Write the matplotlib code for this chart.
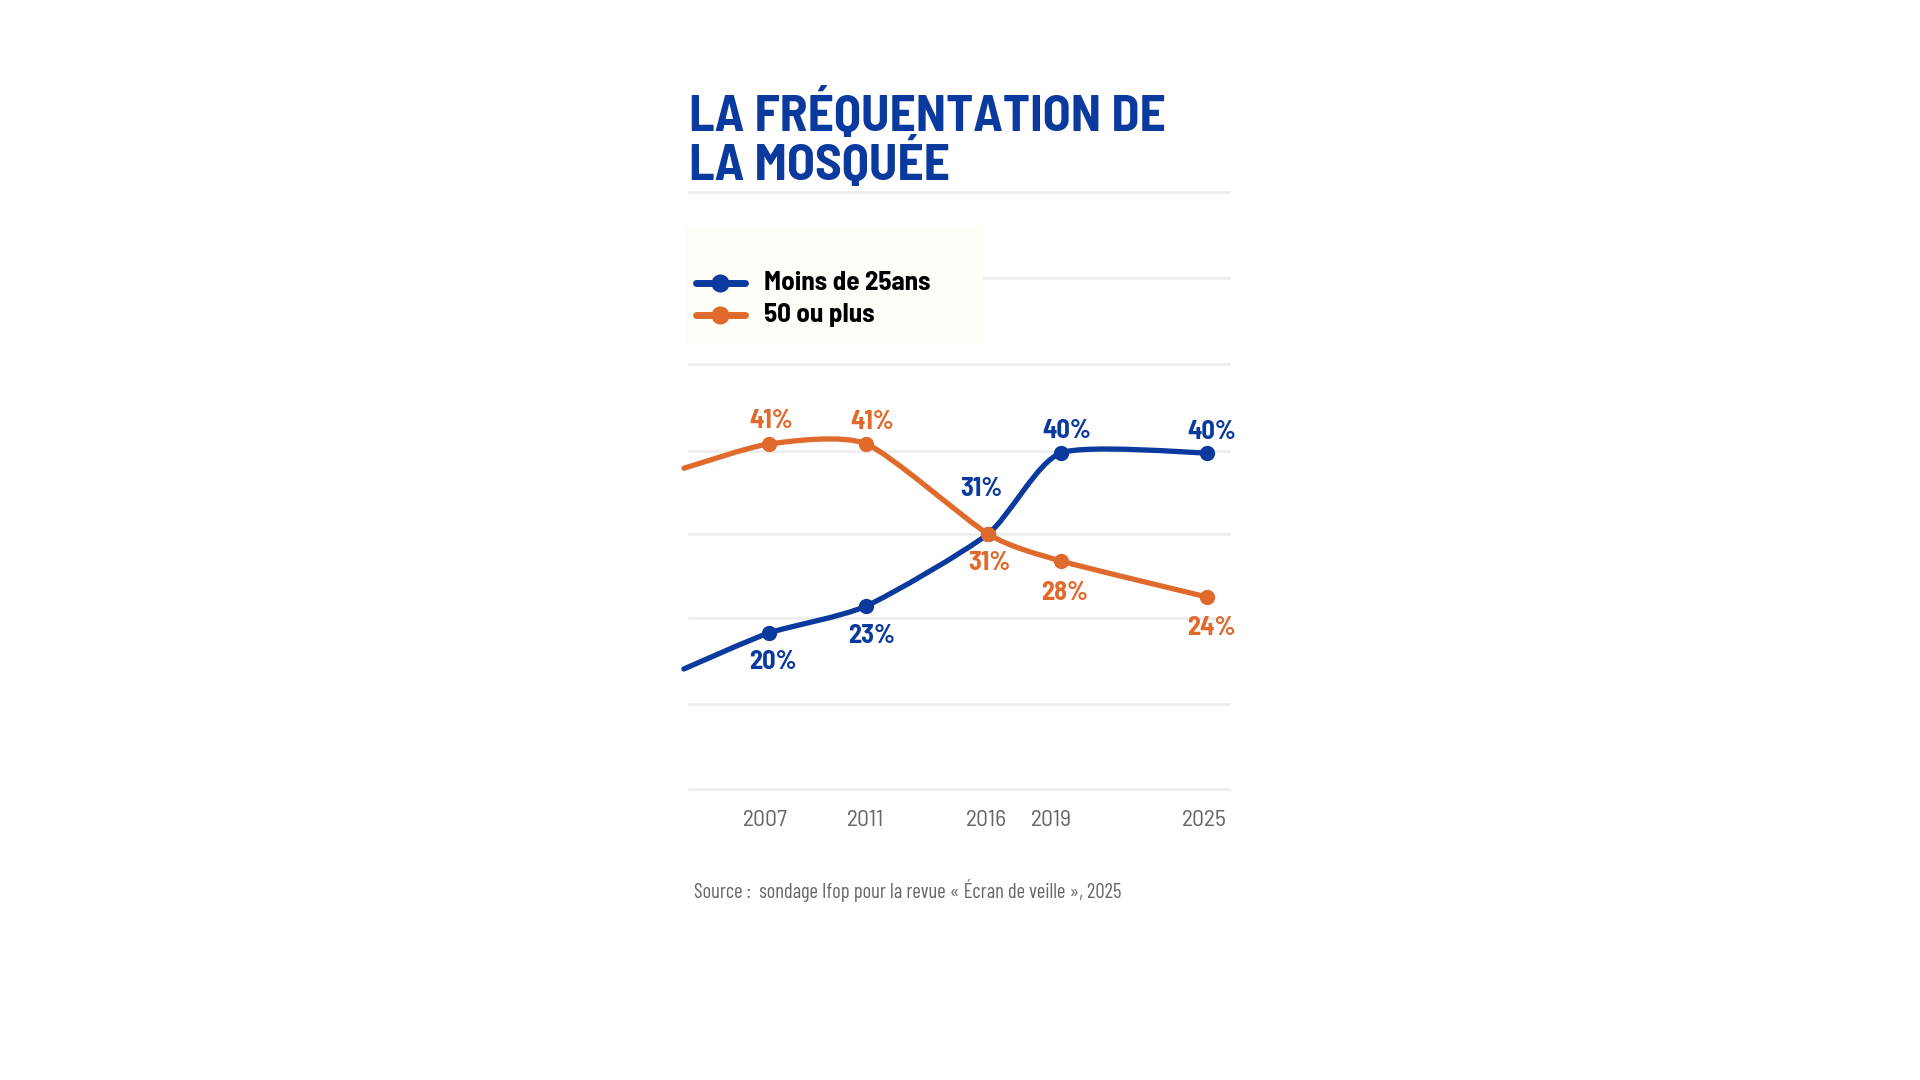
import matplotlib
matplotlib.use("Agg")
import matplotlib.pyplot as plt
from matplotlib.path import Path
from matplotlib.patches import PathPatch, Rectangle
from matplotlib.lines import Line2D

# données
annees = [2007, 2011, 2016, 2019, 2025]
moins_25 = [20, 23, 31, 40, 40]
plus_50 = [41, 41, 31, 28, 24]
# amorce des courbes à gauche du premier point
debut_x = 2003.5
debut_moins_25 = 16
debut_plus_50 = 38.3
etiquettes_annees = ["2007", "2011", "2016", "2019", "2025"]
noms_series = ["Moins de 25ans", "50 ou plus"]

BLEU = "#0a3a9e"
ORANGE = "#e06a2b"
GRIS = "#666666"
GRILLE = "#eeeeee"
COND = ["Barlow Condensed", "Roboto Condensed", "Asap Condensed", "DejaVu Sans"]
SEMI = ["Barlow Semi Condensed", "Barlow Condensed", "Asap Condensed", "DejaVu Sans"]

W, H = 1920, 1080


def fx(px):
    return px / W


def fy(py):
    return 1 - py / H


def courbe(xs, ys, k=0.11):
    # courbe lissée (type catmull-rom) en bezier cubiques
    pts = list(zip(xs, ys))
    verts = [pts[0]]
    codes = [Path.MOVETO]
    n = len(pts)
    for i in range(n - 1):
        p0 = pts[max(i - 1, 0)]
        p1 = pts[i]
        p2 = pts[i + 1]
        p3 = pts[min(i + 2, n - 1)]
        c1 = (p1[0] + (p2[0] - p0[0]) * k, p1[1] + (p2[1] - p0[1]) * k)
        c2 = (p2[0] - (p3[0] - p1[0]) * k, p2[1] - (p3[1] - p1[1]) * k)
        verts += [c1, c2, p2]
        codes += [Path.CURVE4] * 3
    return Path(verts, codes)


fig = plt.figure(figsize=(19.2, 10.8), dpi=100)
fig.patch.set_facecolor("white")

# lignes de grille (mise en page)
for py in [192, 278, 364, 451, 534, 618, 704, 789]:
    fig.add_artist(Line2D([fx(689), fx(1229)], [fy(py), fy(py)],
                          color=GRILLE, lw=2, zorder=-5))

# titre
fig.text(fx(689), fy(180), "LA FRÉQUENTATION DE\nLA MOSQUÉE", color=BLEU,
         fontsize=37, fontweight="bold", family=SEMI, va="baseline", ha="left",
         linespacing=0.93)

# cadre de légende
fig.add_artist(Rectangle((fx(686), fy(343)), fx(983) - fx(686), fy(226) - fy(343),
                         transform=fig.transFigure, facecolor="#fffdf7",
                         edgecolor="none", zorder=-4))
for i, (nom, col) in enumerate(zip(noms_series, [BLEU, ORANGE])):
    yy = fy(283 + 32 * i)
    fig.add_artist(Line2D([fx(696), fx(745)], [yy, yy], color=col, lw=5,
                          solid_capstyle="round", zorder=3))
    fig.add_artist(Line2D([fx(720)], [yy], color=col, marker="o",
                          markersize=12, zorder=4))
    fig.text(fx(764), yy, nom, color="black", fontsize=19.5, fontweight="bold",
             family=SEMI, va="center", ha="left")

# zone du graphique
ax = fig.add_axes([fx(680), fy(800), fx(1240) - fx(680), fy(180) - fy(800)])
ax.patch.set_visible(False)
ax.set_xlim(2003.34, 2026.36)
ax.set_ylim(1.44, 70.33)
for s in ax.spines.values():
    s.set_visible(False)
ax.set_xticks([])
ax.set_yticks([])

series = [
    (moins_25, debut_moins_25, BLEU, 3),
    (plus_50, debut_plus_50, ORANGE, 4),
]
for vals, debut, col, z in series:
    chemin = courbe([debut_x] + annees, [debut] + vals)
    ax.add_patch(PathPatch(chemin, facecolor="none", edgecolor=col, lw=3.8,
                           capstyle="round", joinstyle="round", zorder=z,
                           clip_on=False))
    ax.plot(annees, vals, "o", color=col, markersize=10, zorder=z + 0.5,
            clip_on=False)

# étiquettes de valeurs (décalages en pixels)
dec_bleu = [(4, -29), (5, -30), (-7, 45), (6, 22), (5, 21)]
dec_orange = [(2, 23), (6, 22), (1, -29), (4, -32), (4, -31)]
for vals, decs, col in [(moins_25, dec_bleu, BLEU), (plus_50, dec_orange, ORANGE)]:
    for x, v, (dx, dy) in zip(annees, vals, decs):
        ax.annotate(f"{v}%", (x, v), xytext=(dx, dy), textcoords="offset pixels",
                    ha="center", va="center", color=col, fontsize=19,
                    fontweight="bold", family=SEMI, zorder=6,
                    annotation_clip=False)

# années
pos_annees = [765, 866, 986, 1051, 1204]
for px, lab in zip(pos_annees, etiquettes_annees):
    fig.text(fx(px), fy(821), lab, color=GRIS, fontsize=17, family=SEMI,
             ha="center", va="center")

fig.text(fx(694), fy(890), "Source :  sondage Ifop pour la revue « Écran de veille », 2025",
         color=GRIS, fontsize=14.8, family=COND, ha="left", va="center")

fig.savefig("out.png", dpi=100, facecolor="white")
